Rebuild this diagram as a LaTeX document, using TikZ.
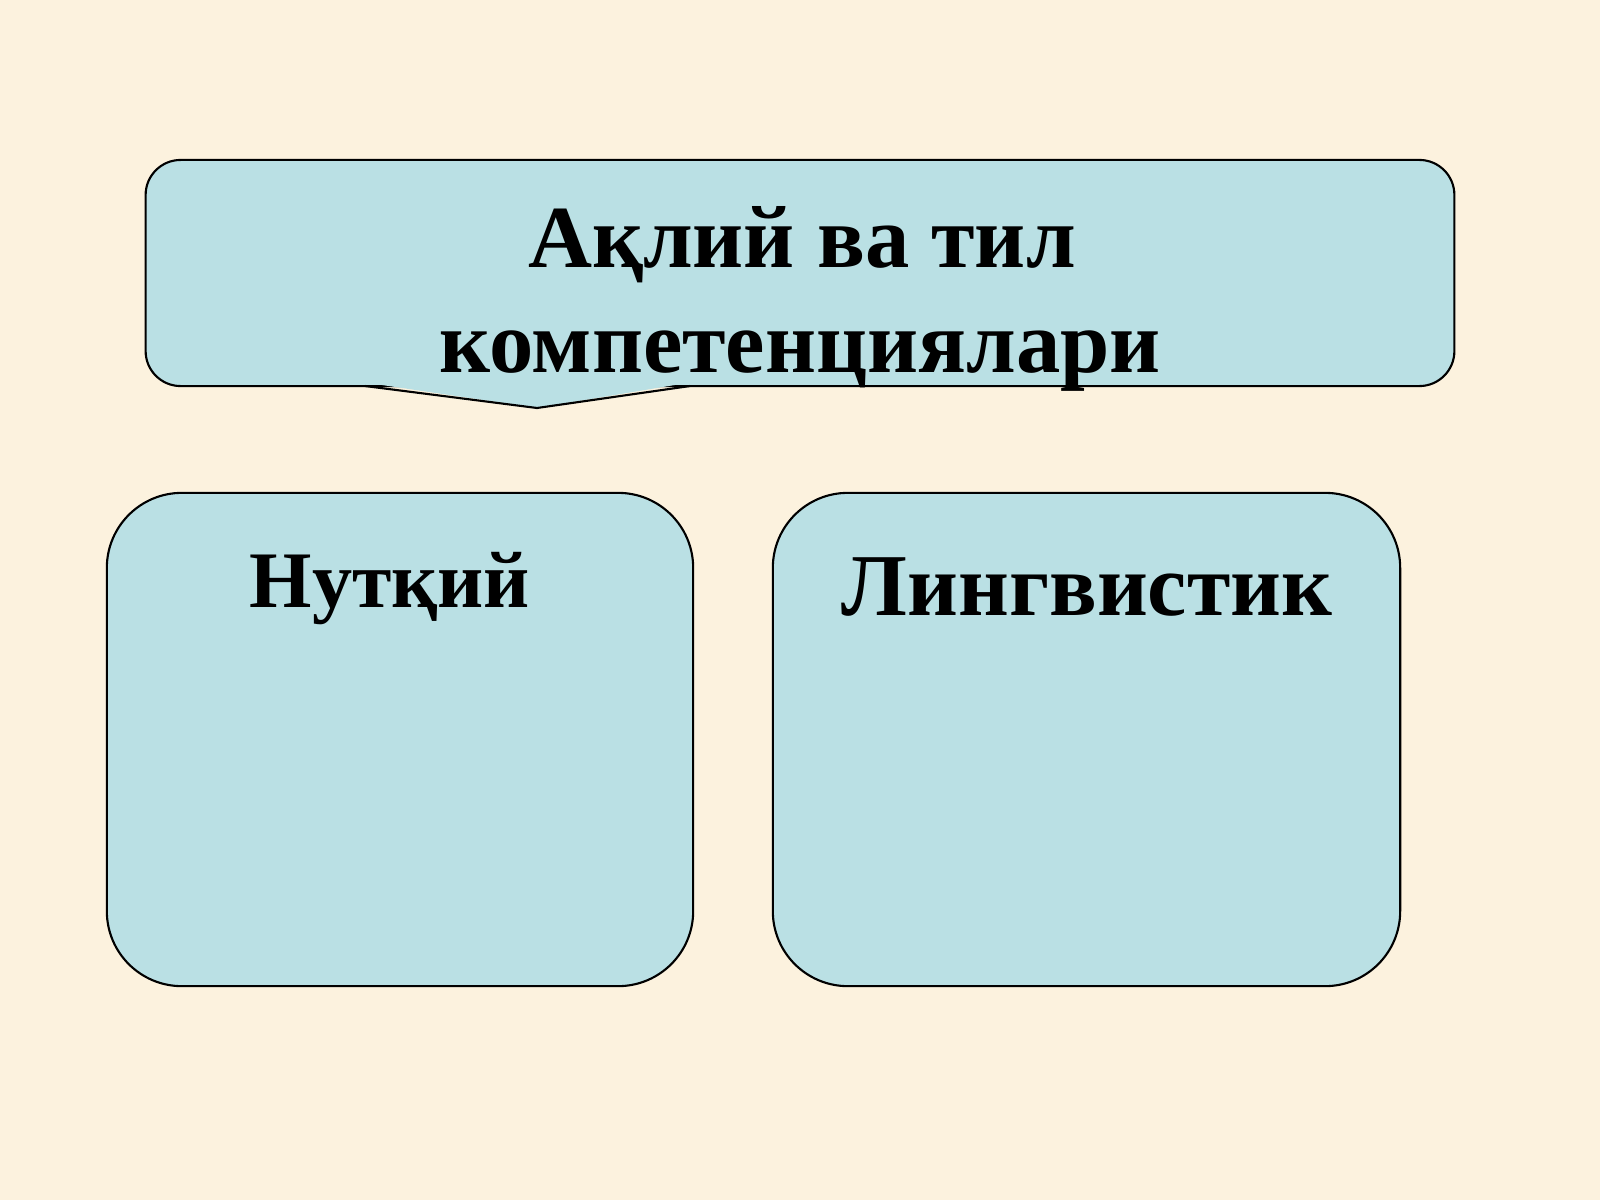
\documentclass[tikz,border=0pt]{standalone}
\usepackage{fontspec}
\setmainfont{Liberation Serif}
\usetikzlibrary{positioning}
\definecolor{mycream}{RGB}{252,242,222}
\definecolor{myblue}{RGB}{186,224,228}
\tikzstyle{mybox}=[rectangle, draw=black, line width=0.6pt, fill=myblue, inner sep=0pt]
\tikzstyle{mylabel}=[anchor=base, inner sep=0pt, font=\bfseries]

\begin{document}
\begin{tikzpicture}[x=0.01cm, y=-0.01cm]

\fill[mycream] (0,0) rectangle (1600,1200);
\useasboundingbox (0,0) rectangle (1600,1200);

% top box with its pointer
\node[mybox, rounded corners=0.35cm, minimum width=13.08cm, minimum height=2.26cm] (competence) at (800,273) {};
\coordinate (pointL) at (365,386);
\coordinate (pointT) at (537,408);
\coordinate (pointR) at (690,386);
\fill[myblue] ([yshift=1pt]pointL) -- (pointT) -- ([yshift=1pt]pointR) -- cycle;
\draw[line width=0.6pt] (pointL) -- (pointT) -- (pointR);

\node[mylabel, font=\fontsize{25.2}{30}\selectfont\bfseries] (titleA) at (802,267) {Ақлий ва тил};
\node[mylabel, font=\fontsize{25.2}{30}\selectfont\bfseries] (titleB) at (800,372) {компетенциялари};

% the two lower boxes
\node[mybox, rounded corners=0.75cm, minimum width=5.86cm, minimum height=4.93cm] (speech) at (400,739.5) {};
\node[mybox, rounded corners=0.75cm, minimum width=6.27cm, minimum height=4.93cm] (lingvo) at (1086.5,739.5) {};

\node[mylabel, font=\fontsize{22.8}{27}\selectfont\bfseries] (speechText) at (390,607) {Нутқий};
\node[mylabel, font=\fontsize{25.1}{30}\selectfont\bfseries] (lingvoText) at (1087,615) {Лингвистик};

\end{tikzpicture}
\end{document}
